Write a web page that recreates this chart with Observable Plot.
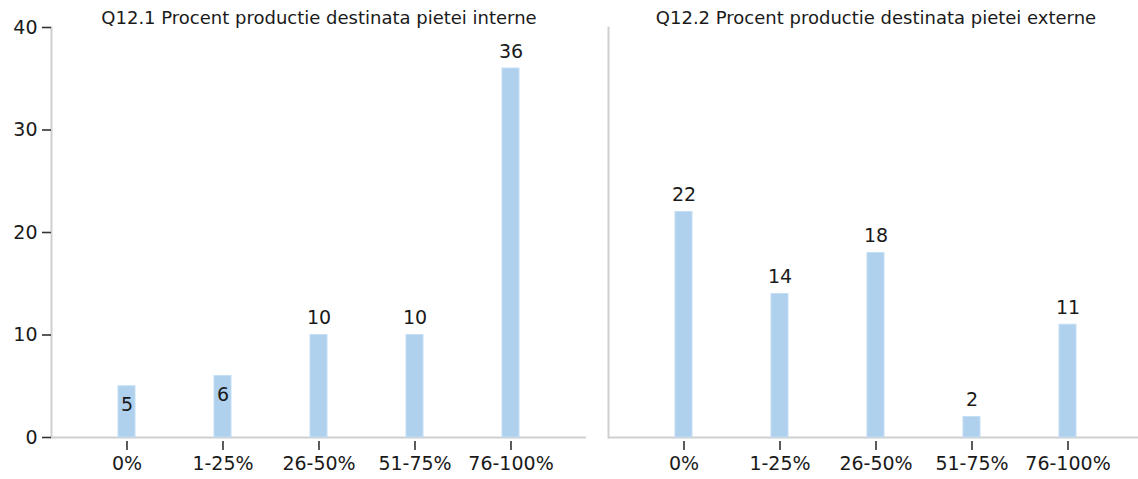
<!DOCTYPE html>
<html>
<head>
<meta charset="utf-8">
<script src="https://cdn.jsdelivr.net/npm/d3@7"></script>
<script src="https://cdn.jsdelivr.net/npm/@observablehq/plot@0.6"></script>
<style>
  html, body { margin: 0; padding: 0; background: #fff; }
  #chart svg { display: block; }
</style>
</head>
<body>
<div id="chart"></div>
<script>
const panels = ["Q12.1 Procent productie destinata pietei interne", "Q12.2 Procent productie destinata pietei externe"];
const categories = ["0%", "1-25%", "26-50%", "51-75%", "76-100%"];
const internValues = [5, 6, 10, 10, 36];
const externValues = [22, 14, 18, 2, 11];
const yTicks = [0, 10, 20, 30, 40];

const data = [
  ...categories.map((c, i) => ({panel: panels[0], cat: c, value: internValues[i]})),
  ...categories.map((c, i) => ({panel: panels[1], cat: c, value: externValues[i]}))
];
// SPSS put the small-bar labels of the first panel inside the bar
const inside = d => d.panel === panels[0] && d.value < 8;

const font = "DejaVu Sans, sans-serif";
const chart = Plot.plot({
  width: 1138,
  height: 479,
  marginTop: 27,
  marginBottom: 42,
  marginLeft: 50,
  marginRight: 0,
  style: {fontFamily: font, fontSize: "19px", color: "#1a1a1a", background: "#fff"},
  fx: {domain: panels, range: [50, 1144], paddingInner: 0.0394, paddingOuter: 0, axis: null, label: null},
  x: {domain: categories, paddingInner: 0.824, paddingOuter: 0.689, label: null},
  y: {domain: [0, 40], label: null},
  marks: [
    Plot.frame({anchor: "left", stroke: "#cfcfcf", strokeWidth: 2}),
    Plot.ruleY([0], {stroke: "#cfcfcf", strokeWidth: 2}),
    Plot.barY(data, {fx: "panel", x: "cat", y: "value", fill: "#afd1ee", stroke: "#c4def4", strokeWidth: 1}),
    Plot.axisY({ticks: yTicks, tickSize: 9, tickPadding: 5, stroke: "#333", strokeWidth: 1.6, fontSize: 19, fill: "#1a1a1a", label: null}),
    Plot.axisX({tickSize: 9, text: null, dy: 4, stroke: "#333", strokeWidth: 1.6, label: null}),
    Plot.axisX({tickSize: 0, tickPadding: 19, fontSize: 19, fill: "#1a1a1a", label: null}),
    Plot.text(data.filter(d => !inside(d)), {fx: "panel", x: "cat", y: "value", text: d => String(d.value), dy: -17, fontSize: 19, fill: "#1a1a1a"}),
    Plot.text(data.filter(inside), {fx: "panel", x: "cat", y: "value", text: d => String(d.value), dy: 19, fontSize: 19, fill: "#1a1a1a"}),
    Plot.text(panels, {fx: d => d, text: d => d, frameAnchor: "top", lineAnchor: "middle", dy: -9, fontSize: 18, fill: "#1a1a1a"})
  ]
});
document.getElementById("chart").appendChild(chart);
</script>
</body>
</html>
